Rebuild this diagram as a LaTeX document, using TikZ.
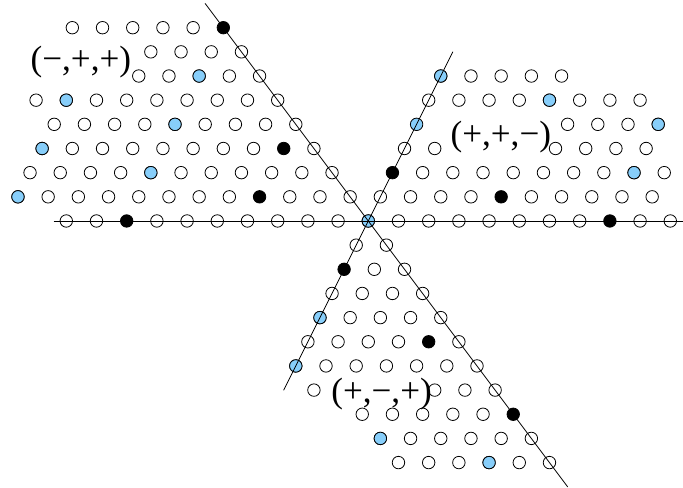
\documentclass[tikz,border=0pt]{standalone}
\usepackage{fontspec}
\setmainfont{Liberation Serif}
\definecolor{ptblue}{RGB}{135,206,250}
\begin{document}
\begin{tikzpicture}[x={(0.8cm,0cm)}, y={(0.32cm,0.64cm)}, line width=0.6pt, line cap=round, font=\fontsize{26.5}{30}\selectfont]
	\useasboundingbox (-9.756cm,-7.073cm) rectangle (8.337cm,5.854cm);
	% lattice points, one run per row piece
	\foreach \b/\first/\last in {8/-13/-8, 7/-10/-7, 6/-10/-6, 6/0/4, 5/-13/-5, 5/0/7, 4/-12/-4, 4/5/8, 3/-12/-3, 3/0/1, 3/5/8, 2/-12/-2, 2/0/9, 1/-12/9, 0/-10/10, -1/0/1, -2/0/2, -3/0/3, -4/0/4, -5/0/5, -6/0/6, -7/1/1, -7/5/7, -8/3/8, -9/4/9, -10/5/10} {
		\foreach \a in {\first,...,\last} {
			\draw (\a,\b) circle (0.165cm);
		}
	}
	\foreach \a/\b in {-8/6, -12/5, -8/4, -12/3, -8/2, -12/1, 0/0, 0/6, 4/5, 0/4, 8/4, 8/2, 0/-4, 0/-6, 4/-9, 8/-10} {
		\filldraw[fill=ptblue] (\a,\b) circle (0.165cm);
	}
	\foreach \a/\b in {-8/8, -4/3, -4/1, -8/0, 0/2, 4/1, 8/0, 0/-2, 4/-5, 8/-8} {
		\fill (\a,\b) circle (0.165cm);
	}
	% the three lines
	\coordinate (hl) at (-10.4,0);
	\coordinate (hr) at (10.45,0);
	\coordinate (ut) at (0,7);
	\coordinate (ub) at (0,-7);
	\coordinate (dt) at (-9,9);
	\coordinate (db) at (11,-11);
	\draw (hl) -- (hr);
	\draw (ub) -- (ut);
	\draw (dt) -- (db);
	\node (lmpp) at (-12.15,6.58) {(−,+,+)};
	\node (lppm) at (3,3.47) {(+,+,−)};
	\node (lpmp) at (3.3,-7.15) {(+,−,+)};
\end{tikzpicture}
\end{document}
